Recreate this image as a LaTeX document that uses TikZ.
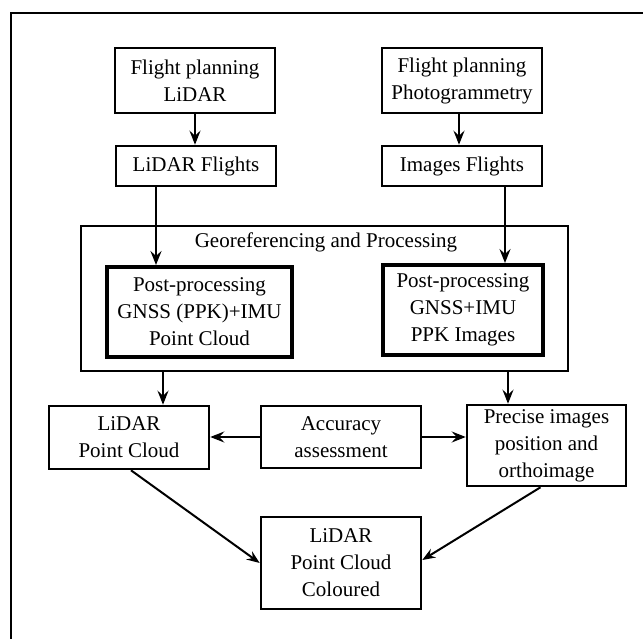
\documentclass[tikz,border=0pt]{standalone}
\usepackage{fontspec}
\setmainfont{Liberation Serif}
\usetikzlibrary{arrows.meta,calc}
\begin{document}
\begin{tikzpicture}[x=1pt,y=-1pt,
  txt/.style={inner sep=0pt,align=center,font=\fontsize{21}{27}\selectfont},
  box/.style={txt,draw,line width=2.6pt},
  thickbox/.style={box,line width=4pt},
  arr/.style={line width=2.5pt,-{Stealth[length=14pt,width=11pt,inset=5pt]}},
  darr/.style={line width=2pt,-{Stealth[length=13pt,width=10pt,inset=4.5pt]}}]
\useasboundingbox (0,0) rectangle (643,639);
\draw[line width=2.5pt] (11,639) -- (11,13) -- (643,13);

\node[box,minimum width=160pt,minimum height=65pt] (fpl) at (195,80.5) {Flight planning\\LiDAR};
\node[box,minimum width=160pt,minimum height=65pt] (fpp) at (462,80.5) {Flight planning\\Photogrammetry};
\node[box,minimum width=160pt,minimum height=40pt] (lf) at (196,166) {LiDAR Flights};
\node[box,minimum width=160pt,minimum height=40pt] (imf) at (462,166) {Images Flights};

\node[box,minimum width=487pt,minimum height=145pt] (cont) at (324.5,298.5) {};
\node[txt] (title) at (326,242) {Georeferencing and Processing};
\node[thickbox,minimum width=185pt,minimum height=90pt] (ppl) at (199.5,312) {Post-processing\\GNSS (PPK)+IMU\\Point Cloud};
\node[thickbox,minimum width=160pt,minimum height=90pt] (ppr) at (463,310) {Post-processing\\GNSS+IMU\\PPK Images};

\node[box,minimum width=160pt,minimum height=63pt] (lpc) at (129,437.5) {LiDAR\\Point Cloud};
\node[box,minimum width=160pt,minimum height=62pt] (acc) at (341,437) {Accuracy\\assessment};
\node[box,minimum width=159pt,minimum height=81pt] (prec) at (546.5,445.5) {Precise images\\position and\\orthoimage};
\node[box,minimum width=160pt,minimum height=92pt] (lpcc) at (341,563) {LiDAR\\Point Cloud\\Coloured};

\draw[arr] (fpl.south) -- (fpl.south |- lf.north);
\draw[arr] ([xshift=-3pt]fpp.south) -- ([xshift=-3pt]fpp.south |- imf.north);
\draw[arr] ([xshift=-40pt]lf.south) -- ([xshift=-40pt]lf.south |- ppl.north);
\draw[arr] ([xshift=43pt]imf.south) -- ([xshift=43pt]imf.south |- ppr.north);
\draw[arr] ([xshift=34pt]lpc.north |- cont.south) -- ([xshift=34pt]lpc.north);
\draw[arr] ([xshift=-38.5pt]prec.north |- cont.south) -- ([xshift=-38.5pt]prec.north);
\draw[arr] (acc.west) -- (acc.west -| lpc.east);
\draw[arr] (acc.east) -- (acc.east -| prec.west);
\draw[darr] ([xshift=2pt]lpc.south) -- (lpcc.west);
\draw[darr] ([xshift=-6pt]prec.south) -- ([yshift=3pt]lpcc.east);
\end{tikzpicture}
\end{document}
